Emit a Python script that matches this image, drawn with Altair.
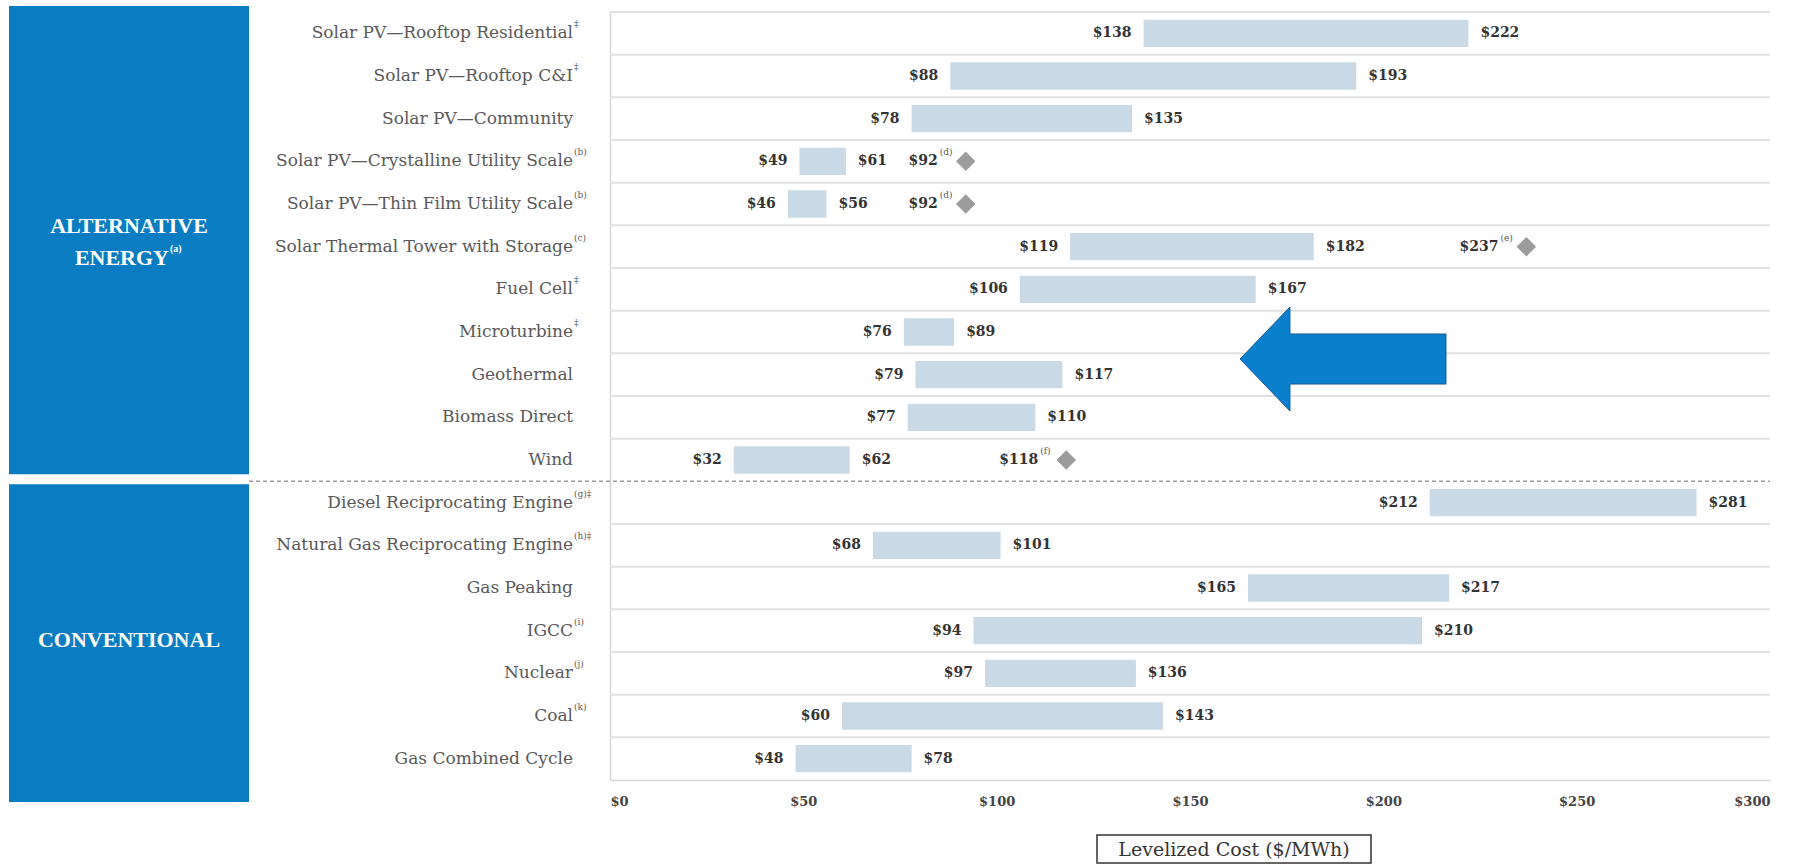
import altair as alt
import pandas as pd

# ---------------- data ----------------
categories = [
    "Solar PV—Rooftop Residential", "Solar PV—Rooftop C&I", "Solar PV—Community",
    "Solar PV—Crystalline Utility Scale", "Solar PV—Thin Film Utility Scale",
    "Solar Thermal Tower with Storage", "Fuel Cell", "Microturbine", "Geothermal",
    "Biomass Direct", "Wind", "Diesel Reciprocating Engine",
    "Natural Gas Reciprocating Engine", "Gas Peaking", "IGCC", "Nuclear", "Coal",
    "Gas Combined Cycle",
]
footnotes = ["‡", "‡", "", "(b)", "(b)", "(c)", "‡", "‡", "", "", "",
             "(g)‡", "(h)‡", "", "(i)", "(j)", "(k)", ""]
low = [138, 88, 78, 49, 46, 119, 106, 76, 79, 77, 32, 212, 68, 165, 94, 97, 60, 48]
high = [222, 193, 135, 61, 56, 182, 167, 89, 117, 110, 62, 281, 101, 217, 210, 136, 143, 78]

diamond_cats = ["Solar PV—Crystalline Utility Scale", "Solar PV—Thin Film Utility Scale",
                "Solar Thermal Tower with Storage", "Wind"]
diamond_vals = [92, 92, 237, 118]
diamond_notes = ["(d)", "(d)", "(e)", "(f)"]

x_ticks = [0, 50, 100, 150, 200, 250, 300]
n_alt = 11  # rows in the "ALTERNATIVE ENERGY" group

# ---------------- layout ----------------
W, H = 1160, 768
STEP = H / len(categories)
SERIF = "DejaVu Serif"
BOX_BLUE = "#0A7DC2"

df = pd.DataFrame({"cat": categories, "note": footnotes, "low": low, "high": high})
dd = pd.DataFrame({"cat": diamond_cats, "val": diamond_vals, "note": diamond_notes})
one = pd.DataFrame({"k": [0]})

yscale = alt.Scale(domain=categories, paddingInner=0.36, paddingOuter=0.18)
yaxis = alt.Axis(labels=False, ticks=False, title=None, grid=False,
                 domain=True, domainColor="#d6d6d6", domainWidth=1.5)
xscale = alt.Scale(domain=[0, 300], nice=False, zero=True)
xaxis = alt.Axis(values=x_ticks, labelExpr="'$' + datum.value", title=None,
                 grid=False, ticks=False, domainColor="#d6d6d6", domainWidth=1.5,
                 labelFont=SERIF, labelFontWeight="bold", labelFontSize=13,
                 labelColor="#444444", labelPadding=15)


def Y():
    return alt.Y("cat:N", sort=categories, scale=yscale, axis=yaxis)


def X(field):
    return alt.X(field, type="quantitative", scale=xscale, axis=xaxis)


base = alt.Chart(df)

grid = base.transform_filter(
    alt.datum.cat != categories[n_alt]
).mark_rule(color="#e0e0e0", strokeWidth=2, yOffset=-STEP / 2).encode(
    y=Y(), x=alt.value(0), x2=alt.value(W))

bars = base.mark_bar(color="#C9D9E6").encode(x=X("low"), x2="high:Q", y=Y())

low_lbl = base.transform_calculate(t="'$' + datum.low").mark_text(
    align="right", dx=-12, font=SERIF, fontWeight="bold", fontSize=14, color="#333333"
).encode(x=X("low"), y=Y(), text="t:N")

high_lbl = base.transform_calculate(t="'$' + datum.high").mark_text(
    align="left", dx=12, font=SERIF, fontWeight="bold", fontSize=14, color="#333333"
).encode(x=X("high"), y=Y(), text="t:N")

cat_lbl = base.mark_text(align="right", font=SERIF, fontSize=17, color="#595959").encode(
    x=alt.value(-37), y=Y(), text="cat:N")
cat_note = base.mark_text(align="left", font=SERIF, fontSize=9, dy=-9, color="#595959").encode(
    x=alt.value(-36), y=Y(), text="note:N")

dpts = alt.Chart(dd)
diam = dpts.mark_point(shape="diamond", filled=True, color="#9c9c9c", size=380, opacity=1).encode(
    x=X("val"), y=Y())
diam_lbl = dpts.transform_calculate(t="'$' + datum.val").mark_text(
    align="right", dx=-28, font=SERIF, fontWeight="bold", fontSize=14, color="#333333"
).encode(x=X("val"), y=Y(), text="t:N")
diam_note = dpts.mark_text(align="left", dx=-26, dy=-9, font=SERIF, fontSize=9,
                           color="#555555").encode(x=X("val"), y=Y(), text="note:N")

# group separator
sep_y = n_alt * STEP
dashed = alt.Chart(one).mark_rule(color="#9a9a9a", strokeWidth=1.5, strokeDash=[4, 3]).encode(
    x=alt.value(-361), x2=alt.value(W), y=alt.value(sep_y))

# group boxes
box1 = alt.Chart(one).mark_rect(color=BOX_BLUE).encode(
    x=alt.value(-601), x2=alt.value(-361), y=alt.value(-6), y2=alt.value(sep_y - 7))
box2 = alt.Chart(one).mark_rect(color=BOX_BLUE).encode(
    x=alt.value(-601), x2=alt.value(-361), y=alt.value(sep_y + 3), y2=alt.value(H + 22))
t_alt1 = alt.Chart(one).mark_text(font="Liberation Serif", fontWeight="bold", fontSize=22,
                                  color="white").encode(
    x=alt.value(-481), y=alt.value(214), text=alt.value("ALTERNATIVE"))
t_alt2 = alt.Chart(one).mark_text(font="Liberation Serif", fontWeight="bold", fontSize=22,
                                  color="white", align="right").encode(
    x=alt.value(-441), y=alt.value(246), text=alt.value("ENERGY"))
t_alt3 = alt.Chart(one).mark_text(font="Liberation Serif", fontWeight="bold", fontSize=10,
                                  color="white", align="left", dy=-9).encode(
    x=alt.value(-440), y=alt.value(246), text=alt.value("(a)"))
t_conv = alt.Chart(one).mark_text(font="Liberation Serif", fontWeight="bold", fontSize=22,
                                  color="white").encode(
    x=alt.value(-481), y=alt.value(628), text=alt.value("CONVENTIONAL"))

# arrow annotation
arrow_path = ("M -1 0 L -0.515 -0.505 L -0.515 -0.243 L 1 -0.243 L 1 0.243 "
              "L -0.515 0.243 L -0.515 0.505 Z")
arrow = alt.Chart(one).mark_point(shape=arrow_path, size=206 * 206, filled=True,
                                  fill="#0A7FCB", stroke="#1A5E98", strokeWidth=1,
                                  opacity=1).encode(
    x=alt.value(733), y=alt.value(347))

# axis title in a box
tbox = alt.Chart(one).mark_rect(fill="white", stroke="#333333", strokeWidth=1.5).encode(
    x=alt.value(487), x2=alt.value(761), y=alt.value(823), y2=alt.value(851))
ttext = alt.Chart(one).mark_text(font=SERIF, fontSize=19, color="#333333").encode(
    x=alt.value(624), y=alt.value(838), text=alt.value("Levelized Cost ($/MWh)"))

chart = alt.layer(
    grid, bars, low_lbl, high_lbl, cat_lbl, cat_note, diam, diam_lbl, diam_note,
    dashed, box1, box2, t_alt1, t_alt2, t_alt3, t_conv, arrow, tbox, ttext
).properties(
    width=W, height=H,
    padding={"left": 610, "top": 12, "right": 44, "bottom": 85},
    autosize=alt.AutoSizeParams(type="none"),
    background="white",
).configure_view(stroke=None)

chart.save("out.html", embed_options={"renderer": "svg", "actions": False})
